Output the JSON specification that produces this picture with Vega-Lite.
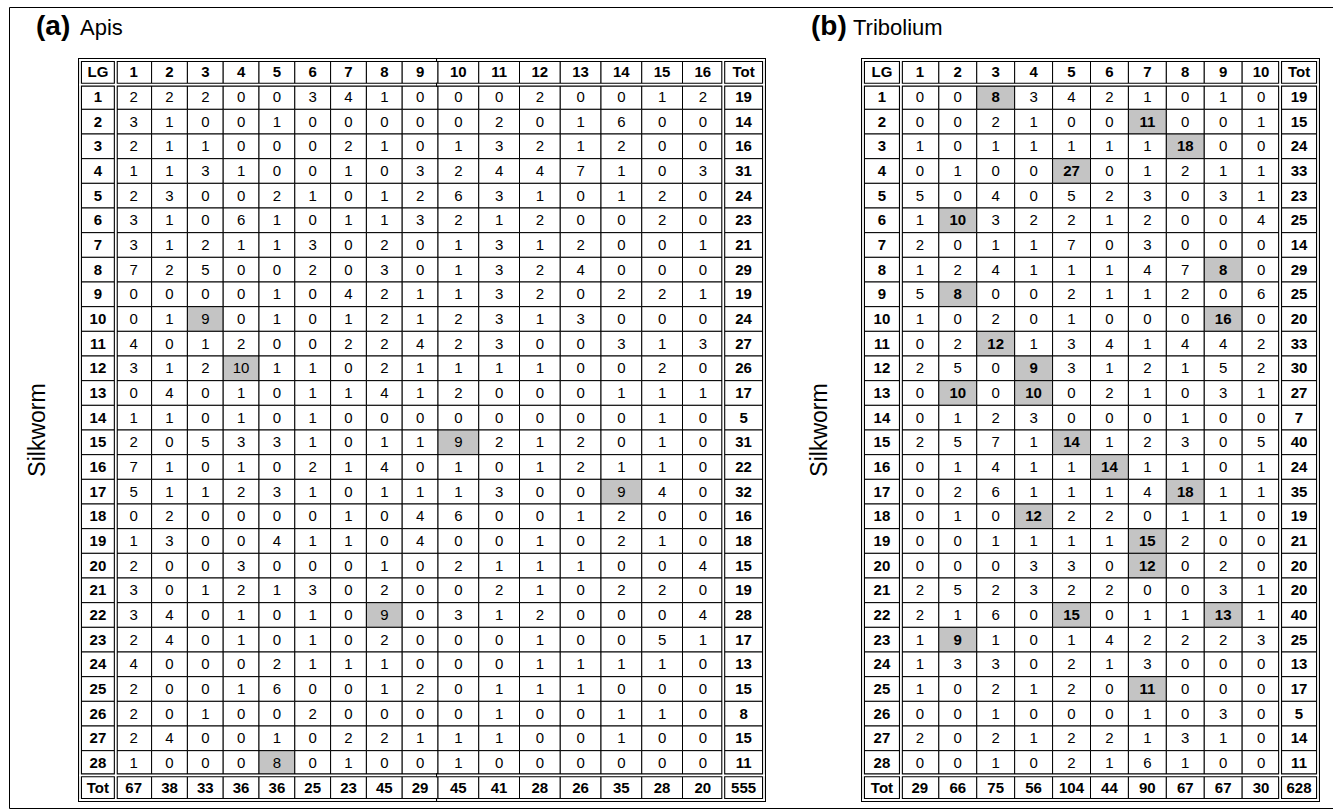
{
"$schema": "https://vega.github.io/schema/vega-lite/v6.json",
"width": 1333, "height": 810,
"autosize": {"type": "fit", "contains": "padding"},
"padding": {"left": 9, "top": 7, "right": 0, "bottom": 2},
"background": "white",
"config": {"view": {"stroke": "black", "strokeWidth": 1}, "font": "Liberation Sans"},
"datasets": {
"apis": [
{"r":"LG","c":"LG","v":"LG"},{"r":"LG","c":"1","v":"1"},{"r":"LG","c":"2","v":"2"},{"r":"LG","c":"3","v":"3"},{"r":"LG","c":"4","v":"4"},{"r":"LG","c":"5","v":"5"},{"r":"LG","c":"6","v":"6"},{"r":"LG","c":"7","v":"7"},{"r":"LG","c":"8","v":"8"},{"r":"LG","c":"9","v":"9"},{"r":"LG","c":"10","v":"10"},{"r":"LG","c":"11","v":"11"},{"r":"LG","c":"12","v":"12"},{"r":"LG","c":"13","v":"13"},{"r":"LG","c":"14","v":"14"},{"r":"LG","c":"15","v":"15"},{"r":"LG","c":"16","v":"16"},{"r":"LG","c":"Tot","v":"Tot"},
{"r":"1","c":"LG","v":"1"},{"r":"1","c":"1","v":2},{"r":"1","c":"2","v":2},{"r":"1","c":"3","v":2},{"r":"1","c":"4","v":0},{"r":"1","c":"5","v":0},{"r":"1","c":"6","v":3},{"r":"1","c":"7","v":4},{"r":"1","c":"8","v":1},{"r":"1","c":"9","v":0},{"r":"1","c":"10","v":0},{"r":"1","c":"11","v":0},{"r":"1","c":"12","v":2},{"r":"1","c":"13","v":0},{"r":"1","c":"14","v":0},{"r":"1","c":"15","v":1},{"r":"1","c":"16","v":2},{"r":"1","c":"Tot","v":19},
{"r":"2","c":"LG","v":"2"},{"r":"2","c":"1","v":3},{"r":"2","c":"2","v":1},{"r":"2","c":"3","v":0},{"r":"2","c":"4","v":0},{"r":"2","c":"5","v":1},{"r":"2","c":"6","v":0},{"r":"2","c":"7","v":0},{"r":"2","c":"8","v":0},{"r":"2","c":"9","v":0},{"r":"2","c":"10","v":0},{"r":"2","c":"11","v":2},{"r":"2","c":"12","v":0},{"r":"2","c":"13","v":1},{"r":"2","c":"14","v":6},{"r":"2","c":"15","v":0},{"r":"2","c":"16","v":0},{"r":"2","c":"Tot","v":14},
{"r":"3","c":"LG","v":"3"},{"r":"3","c":"1","v":2},{"r":"3","c":"2","v":1},{"r":"3","c":"3","v":1},{"r":"3","c":"4","v":0},{"r":"3","c":"5","v":0},{"r":"3","c":"6","v":0},{"r":"3","c":"7","v":2},{"r":"3","c":"8","v":1},{"r":"3","c":"9","v":0},{"r":"3","c":"10","v":1},{"r":"3","c":"11","v":3},{"r":"3","c":"12","v":2},{"r":"3","c":"13","v":1},{"r":"3","c":"14","v":2},{"r":"3","c":"15","v":0},{"r":"3","c":"16","v":0},{"r":"3","c":"Tot","v":16},
{"r":"4","c":"LG","v":"4"},{"r":"4","c":"1","v":1},{"r":"4","c":"2","v":1},{"r":"4","c":"3","v":3},{"r":"4","c":"4","v":1},{"r":"4","c":"5","v":0},{"r":"4","c":"6","v":0},{"r":"4","c":"7","v":1},{"r":"4","c":"8","v":0},{"r":"4","c":"9","v":3},{"r":"4","c":"10","v":2},{"r":"4","c":"11","v":4},{"r":"4","c":"12","v":4},{"r":"4","c":"13","v":7},{"r":"4","c":"14","v":1},{"r":"4","c":"15","v":0},{"r":"4","c":"16","v":3},{"r":"4","c":"Tot","v":31},
{"r":"5","c":"LG","v":"5"},{"r":"5","c":"1","v":2},{"r":"5","c":"2","v":3},{"r":"5","c":"3","v":0},{"r":"5","c":"4","v":0},{"r":"5","c":"5","v":2},{"r":"5","c":"6","v":1},{"r":"5","c":"7","v":0},{"r":"5","c":"8","v":1},{"r":"5","c":"9","v":2},{"r":"5","c":"10","v":6},{"r":"5","c":"11","v":3},{"r":"5","c":"12","v":1},{"r":"5","c":"13","v":0},{"r":"5","c":"14","v":1},{"r":"5","c":"15","v":2},{"r":"5","c":"16","v":0},{"r":"5","c":"Tot","v":24},
{"r":"6","c":"LG","v":"6"},{"r":"6","c":"1","v":3},{"r":"6","c":"2","v":1},{"r":"6","c":"3","v":0},{"r":"6","c":"4","v":6},{"r":"6","c":"5","v":1},{"r":"6","c":"6","v":0},{"r":"6","c":"7","v":1},{"r":"6","c":"8","v":1},{"r":"6","c":"9","v":3},{"r":"6","c":"10","v":2},{"r":"6","c":"11","v":1},{"r":"6","c":"12","v":2},{"r":"6","c":"13","v":0},{"r":"6","c":"14","v":0},{"r":"6","c":"15","v":2},{"r":"6","c":"16","v":0},{"r":"6","c":"Tot","v":23},
{"r":"7","c":"LG","v":"7"},{"r":"7","c":"1","v":3},{"r":"7","c":"2","v":1},{"r":"7","c":"3","v":2},{"r":"7","c":"4","v":1},{"r":"7","c":"5","v":1},{"r":"7","c":"6","v":3},{"r":"7","c":"7","v":0},{"r":"7","c":"8","v":2},{"r":"7","c":"9","v":0},{"r":"7","c":"10","v":1},{"r":"7","c":"11","v":3},{"r":"7","c":"12","v":1},{"r":"7","c":"13","v":2},{"r":"7","c":"14","v":0},{"r":"7","c":"15","v":0},{"r":"7","c":"16","v":1},{"r":"7","c":"Tot","v":21},
{"r":"8","c":"LG","v":"8"},{"r":"8","c":"1","v":7},{"r":"8","c":"2","v":2},{"r":"8","c":"3","v":5},{"r":"8","c":"4","v":0},{"r":"8","c":"5","v":0},{"r":"8","c":"6","v":2},{"r":"8","c":"7","v":0},{"r":"8","c":"8","v":3},{"r":"8","c":"9","v":0},{"r":"8","c":"10","v":1},{"r":"8","c":"11","v":3},{"r":"8","c":"12","v":2},{"r":"8","c":"13","v":4},{"r":"8","c":"14","v":0},{"r":"8","c":"15","v":0},{"r":"8","c":"16","v":0},{"r":"8","c":"Tot","v":29},
{"r":"9","c":"LG","v":"9"},{"r":"9","c":"1","v":0},{"r":"9","c":"2","v":0},{"r":"9","c":"3","v":0},{"r":"9","c":"4","v":0},{"r":"9","c":"5","v":1},{"r":"9","c":"6","v":0},{"r":"9","c":"7","v":4},{"r":"9","c":"8","v":2},{"r":"9","c":"9","v":1},{"r":"9","c":"10","v":1},{"r":"9","c":"11","v":3},{"r":"9","c":"12","v":2},{"r":"9","c":"13","v":0},{"r":"9","c":"14","v":2},{"r":"9","c":"15","v":2},{"r":"9","c":"16","v":1},{"r":"9","c":"Tot","v":19},
{"r":"10","c":"LG","v":"10"},{"r":"10","c":"1","v":0},{"r":"10","c":"2","v":1},{"r":"10","c":"3","v":9,"h":1},{"r":"10","c":"4","v":0},{"r":"10","c":"5","v":1},{"r":"10","c":"6","v":0},{"r":"10","c":"7","v":1},{"r":"10","c":"8","v":2},{"r":"10","c":"9","v":1},{"r":"10","c":"10","v":2},{"r":"10","c":"11","v":3},{"r":"10","c":"12","v":1},{"r":"10","c":"13","v":3},{"r":"10","c":"14","v":0},{"r":"10","c":"15","v":0},{"r":"10","c":"16","v":0},{"r":"10","c":"Tot","v":24},
{"r":"11","c":"LG","v":"11"},{"r":"11","c":"1","v":4},{"r":"11","c":"2","v":0},{"r":"11","c":"3","v":1},{"r":"11","c":"4","v":2},{"r":"11","c":"5","v":0},{"r":"11","c":"6","v":0},{"r":"11","c":"7","v":2},{"r":"11","c":"8","v":2},{"r":"11","c":"9","v":4},{"r":"11","c":"10","v":2},{"r":"11","c":"11","v":3},{"r":"11","c":"12","v":0},{"r":"11","c":"13","v":0},{"r":"11","c":"14","v":3},{"r":"11","c":"15","v":1},{"r":"11","c":"16","v":3},{"r":"11","c":"Tot","v":27},
{"r":"12","c":"LG","v":"12"},{"r":"12","c":"1","v":3},{"r":"12","c":"2","v":1},{"r":"12","c":"3","v":2},{"r":"12","c":"4","v":10,"h":1},{"r":"12","c":"5","v":1},{"r":"12","c":"6","v":1},{"r":"12","c":"7","v":0},{"r":"12","c":"8","v":2},{"r":"12","c":"9","v":1},{"r":"12","c":"10","v":1},{"r":"12","c":"11","v":1},{"r":"12","c":"12","v":1},{"r":"12","c":"13","v":0},{"r":"12","c":"14","v":0},{"r":"12","c":"15","v":2},{"r":"12","c":"16","v":0},{"r":"12","c":"Tot","v":26},
{"r":"13","c":"LG","v":"13"},{"r":"13","c":"1","v":0},{"r":"13","c":"2","v":4},{"r":"13","c":"3","v":0},{"r":"13","c":"4","v":1},{"r":"13","c":"5","v":0},{"r":"13","c":"6","v":1},{"r":"13","c":"7","v":1},{"r":"13","c":"8","v":4},{"r":"13","c":"9","v":1},{"r":"13","c":"10","v":2},{"r":"13","c":"11","v":0},{"r":"13","c":"12","v":0},{"r":"13","c":"13","v":0},{"r":"13","c":"14","v":1},{"r":"13","c":"15","v":1},{"r":"13","c":"16","v":1},{"r":"13","c":"Tot","v":17},
{"r":"14","c":"LG","v":"14"},{"r":"14","c":"1","v":1},{"r":"14","c":"2","v":1},{"r":"14","c":"3","v":0},{"r":"14","c":"4","v":1},{"r":"14","c":"5","v":0},{"r":"14","c":"6","v":1},{"r":"14","c":"7","v":0},{"r":"14","c":"8","v":0},{"r":"14","c":"9","v":0},{"r":"14","c":"10","v":0},{"r":"14","c":"11","v":0},{"r":"14","c":"12","v":0},{"r":"14","c":"13","v":0},{"r":"14","c":"14","v":0},{"r":"14","c":"15","v":1},{"r":"14","c":"16","v":0},{"r":"14","c":"Tot","v":5},
{"r":"15","c":"LG","v":"15"},{"r":"15","c":"1","v":2},{"r":"15","c":"2","v":0},{"r":"15","c":"3","v":5},{"r":"15","c":"4","v":3},{"r":"15","c":"5","v":3},{"r":"15","c":"6","v":1},{"r":"15","c":"7","v":0},{"r":"15","c":"8","v":1},{"r":"15","c":"9","v":1},{"r":"15","c":"10","v":9,"h":1},{"r":"15","c":"11","v":2},{"r":"15","c":"12","v":1},{"r":"15","c":"13","v":2},{"r":"15","c":"14","v":0},{"r":"15","c":"15","v":1},{"r":"15","c":"16","v":0},{"r":"15","c":"Tot","v":31},
{"r":"16","c":"LG","v":"16"},{"r":"16","c":"1","v":7},{"r":"16","c":"2","v":1},{"r":"16","c":"3","v":0},{"r":"16","c":"4","v":1},{"r":"16","c":"5","v":0},{"r":"16","c":"6","v":2},{"r":"16","c":"7","v":1},{"r":"16","c":"8","v":4},{"r":"16","c":"9","v":0},{"r":"16","c":"10","v":1},{"r":"16","c":"11","v":0},{"r":"16","c":"12","v":1},{"r":"16","c":"13","v":2},{"r":"16","c":"14","v":1},{"r":"16","c":"15","v":1},{"r":"16","c":"16","v":0},{"r":"16","c":"Tot","v":22},
{"r":"17","c":"LG","v":"17"},{"r":"17","c":"1","v":5},{"r":"17","c":"2","v":1},{"r":"17","c":"3","v":1},{"r":"17","c":"4","v":2},{"r":"17","c":"5","v":3},{"r":"17","c":"6","v":1},{"r":"17","c":"7","v":0},{"r":"17","c":"8","v":1},{"r":"17","c":"9","v":1},{"r":"17","c":"10","v":1},{"r":"17","c":"11","v":3},{"r":"17","c":"12","v":0},{"r":"17","c":"13","v":0},{"r":"17","c":"14","v":9,"h":1},{"r":"17","c":"15","v":4},{"r":"17","c":"16","v":0},{"r":"17","c":"Tot","v":32},
{"r":"18","c":"LG","v":"18"},{"r":"18","c":"1","v":0},{"r":"18","c":"2","v":2},{"r":"18","c":"3","v":0},{"r":"18","c":"4","v":0},{"r":"18","c":"5","v":0},{"r":"18","c":"6","v":0},{"r":"18","c":"7","v":1},{"r":"18","c":"8","v":0},{"r":"18","c":"9","v":4},{"r":"18","c":"10","v":6},{"r":"18","c":"11","v":0},{"r":"18","c":"12","v":0},{"r":"18","c":"13","v":1},{"r":"18","c":"14","v":2},{"r":"18","c":"15","v":0},{"r":"18","c":"16","v":0},{"r":"18","c":"Tot","v":16},
{"r":"19","c":"LG","v":"19"},{"r":"19","c":"1","v":1},{"r":"19","c":"2","v":3},{"r":"19","c":"3","v":0},{"r":"19","c":"4","v":0},{"r":"19","c":"5","v":4},{"r":"19","c":"6","v":1},{"r":"19","c":"7","v":1},{"r":"19","c":"8","v":0},{"r":"19","c":"9","v":4},{"r":"19","c":"10","v":0},{"r":"19","c":"11","v":0},{"r":"19","c":"12","v":1},{"r":"19","c":"13","v":0},{"r":"19","c":"14","v":2},{"r":"19","c":"15","v":1},{"r":"19","c":"16","v":0},{"r":"19","c":"Tot","v":18},
{"r":"20","c":"LG","v":"20"},{"r":"20","c":"1","v":2},{"r":"20","c":"2","v":0},{"r":"20","c":"3","v":0},{"r":"20","c":"4","v":3},{"r":"20","c":"5","v":0},{"r":"20","c":"6","v":0},{"r":"20","c":"7","v":0},{"r":"20","c":"8","v":1},{"r":"20","c":"9","v":0},{"r":"20","c":"10","v":2},{"r":"20","c":"11","v":1},{"r":"20","c":"12","v":1},{"r":"20","c":"13","v":1},{"r":"20","c":"14","v":0},{"r":"20","c":"15","v":0},{"r":"20","c":"16","v":4},{"r":"20","c":"Tot","v":15},
{"r":"21","c":"LG","v":"21"},{"r":"21","c":"1","v":3},{"r":"21","c":"2","v":0},{"r":"21","c":"3","v":1},{"r":"21","c":"4","v":2},{"r":"21","c":"5","v":1},{"r":"21","c":"6","v":3},{"r":"21","c":"7","v":0},{"r":"21","c":"8","v":2},{"r":"21","c":"9","v":0},{"r":"21","c":"10","v":0},{"r":"21","c":"11","v":2},{"r":"21","c":"12","v":1},{"r":"21","c":"13","v":0},{"r":"21","c":"14","v":2},{"r":"21","c":"15","v":2},{"r":"21","c":"16","v":0},{"r":"21","c":"Tot","v":19},
{"r":"22","c":"LG","v":"22"},{"r":"22","c":"1","v":3},{"r":"22","c":"2","v":4},{"r":"22","c":"3","v":0},{"r":"22","c":"4","v":1},{"r":"22","c":"5","v":0},{"r":"22","c":"6","v":1},{"r":"22","c":"7","v":0},{"r":"22","c":"8","v":9,"h":1},{"r":"22","c":"9","v":0},{"r":"22","c":"10","v":3},{"r":"22","c":"11","v":1},{"r":"22","c":"12","v":2},{"r":"22","c":"13","v":0},{"r":"22","c":"14","v":0},{"r":"22","c":"15","v":0},{"r":"22","c":"16","v":4},{"r":"22","c":"Tot","v":28},
{"r":"23","c":"LG","v":"23"},{"r":"23","c":"1","v":2},{"r":"23","c":"2","v":4},{"r":"23","c":"3","v":0},{"r":"23","c":"4","v":1},{"r":"23","c":"5","v":0},{"r":"23","c":"6","v":1},{"r":"23","c":"7","v":0},{"r":"23","c":"8","v":2},{"r":"23","c":"9","v":0},{"r":"23","c":"10","v":0},{"r":"23","c":"11","v":0},{"r":"23","c":"12","v":1},{"r":"23","c":"13","v":0},{"r":"23","c":"14","v":0},{"r":"23","c":"15","v":5},{"r":"23","c":"16","v":1},{"r":"23","c":"Tot","v":17},
{"r":"24","c":"LG","v":"24"},{"r":"24","c":"1","v":4},{"r":"24","c":"2","v":0},{"r":"24","c":"3","v":0},{"r":"24","c":"4","v":0},{"r":"24","c":"5","v":2},{"r":"24","c":"6","v":1},{"r":"24","c":"7","v":1},{"r":"24","c":"8","v":1},{"r":"24","c":"9","v":0},{"r":"24","c":"10","v":0},{"r":"24","c":"11","v":0},{"r":"24","c":"12","v":1},{"r":"24","c":"13","v":1},{"r":"24","c":"14","v":1},{"r":"24","c":"15","v":1},{"r":"24","c":"16","v":0},{"r":"24","c":"Tot","v":13},
{"r":"25","c":"LG","v":"25"},{"r":"25","c":"1","v":2},{"r":"25","c":"2","v":0},{"r":"25","c":"3","v":0},{"r":"25","c":"4","v":1},{"r":"25","c":"5","v":6},{"r":"25","c":"6","v":0},{"r":"25","c":"7","v":0},{"r":"25","c":"8","v":1},{"r":"25","c":"9","v":2},{"r":"25","c":"10","v":0},{"r":"25","c":"11","v":1},{"r":"25","c":"12","v":1},{"r":"25","c":"13","v":1},{"r":"25","c":"14","v":0},{"r":"25","c":"15","v":0},{"r":"25","c":"16","v":0},{"r":"25","c":"Tot","v":15},
{"r":"26","c":"LG","v":"26"},{"r":"26","c":"1","v":2},{"r":"26","c":"2","v":0},{"r":"26","c":"3","v":1},{"r":"26","c":"4","v":0},{"r":"26","c":"5","v":0},{"r":"26","c":"6","v":2},{"r":"26","c":"7","v":0},{"r":"26","c":"8","v":0},{"r":"26","c":"9","v":0},{"r":"26","c":"10","v":0},{"r":"26","c":"11","v":1},{"r":"26","c":"12","v":0},{"r":"26","c":"13","v":0},{"r":"26","c":"14","v":1},{"r":"26","c":"15","v":1},{"r":"26","c":"16","v":0},{"r":"26","c":"Tot","v":8},
{"r":"27","c":"LG","v":"27"},{"r":"27","c":"1","v":2},{"r":"27","c":"2","v":4},{"r":"27","c":"3","v":0},{"r":"27","c":"4","v":0},{"r":"27","c":"5","v":1},{"r":"27","c":"6","v":0},{"r":"27","c":"7","v":2},{"r":"27","c":"8","v":2},{"r":"27","c":"9","v":1},{"r":"27","c":"10","v":1},{"r":"27","c":"11","v":1},{"r":"27","c":"12","v":0},{"r":"27","c":"13","v":0},{"r":"27","c":"14","v":1},{"r":"27","c":"15","v":0},{"r":"27","c":"16","v":0},{"r":"27","c":"Tot","v":15},
{"r":"28","c":"LG","v":"28"},{"r":"28","c":"1","v":1},{"r":"28","c":"2","v":0},{"r":"28","c":"3","v":0},{"r":"28","c":"4","v":0},{"r":"28","c":"5","v":8,"h":1},{"r":"28","c":"6","v":0},{"r":"28","c":"7","v":1},{"r":"28","c":"8","v":0},{"r":"28","c":"9","v":0},{"r":"28","c":"10","v":1},{"r":"28","c":"11","v":0},{"r":"28","c":"12","v":0},{"r":"28","c":"13","v":0},{"r":"28","c":"14","v":0},{"r":"28","c":"15","v":0},{"r":"28","c":"16","v":0},{"r":"28","c":"Tot","v":11},
{"r":"Tot","c":"LG","v":"Tot"},{"r":"Tot","c":"1","v":67},{"r":"Tot","c":"2","v":38},{"r":"Tot","c":"3","v":33},{"r":"Tot","c":"4","v":36},{"r":"Tot","c":"5","v":36},{"r":"Tot","c":"6","v":25},{"r":"Tot","c":"7","v":23},{"r":"Tot","c":"8","v":45},{"r":"Tot","c":"9","v":29},{"r":"Tot","c":"10","v":45},{"r":"Tot","c":"11","v":41},{"r":"Tot","c":"12","v":28},{"r":"Tot","c":"13","v":26},{"r":"Tot","c":"14","v":35},{"r":"Tot","c":"15","v":28},{"r":"Tot","c":"16","v":20},{"r":"Tot","c":"Tot","v":555}
],
"trib": [
{"r":"LG","c":"LG","v":"LG"},{"r":"LG","c":"1","v":"1"},{"r":"LG","c":"2","v":"2"},{"r":"LG","c":"3","v":"3"},{"r":"LG","c":"4","v":"4"},{"r":"LG","c":"5","v":"5"},{"r":"LG","c":"6","v":"6"},{"r":"LG","c":"7","v":"7"},{"r":"LG","c":"8","v":"8"},{"r":"LG","c":"9","v":"9"},{"r":"LG","c":"10","v":"10"},{"r":"LG","c":"Tot","v":"Tot"},
{"r":"1","c":"LG","v":"1"},{"r":"1","c":"1","v":0},{"r":"1","c":"2","v":0},{"r":"1","c":"3","v":8,"h":1},{"r":"1","c":"4","v":3},{"r":"1","c":"5","v":4},{"r":"1","c":"6","v":2},{"r":"1","c":"7","v":1},{"r":"1","c":"8","v":0},{"r":"1","c":"9","v":1},{"r":"1","c":"10","v":0},{"r":"1","c":"Tot","v":19},
{"r":"2","c":"LG","v":"2"},{"r":"2","c":"1","v":0},{"r":"2","c":"2","v":0},{"r":"2","c":"3","v":2},{"r":"2","c":"4","v":1},{"r":"2","c":"5","v":0},{"r":"2","c":"6","v":0},{"r":"2","c":"7","v":11,"h":1},{"r":"2","c":"8","v":0},{"r":"2","c":"9","v":0},{"r":"2","c":"10","v":1},{"r":"2","c":"Tot","v":15},
{"r":"3","c":"LG","v":"3"},{"r":"3","c":"1","v":1},{"r":"3","c":"2","v":0},{"r":"3","c":"3","v":1},{"r":"3","c":"4","v":1},{"r":"3","c":"5","v":1},{"r":"3","c":"6","v":1},{"r":"3","c":"7","v":1},{"r":"3","c":"8","v":18,"h":1},{"r":"3","c":"9","v":0},{"r":"3","c":"10","v":0},{"r":"3","c":"Tot","v":24},
{"r":"4","c":"LG","v":"4"},{"r":"4","c":"1","v":0},{"r":"4","c":"2","v":1},{"r":"4","c":"3","v":0},{"r":"4","c":"4","v":0},{"r":"4","c":"5","v":27,"h":1},{"r":"4","c":"6","v":0},{"r":"4","c":"7","v":1},{"r":"4","c":"8","v":2},{"r":"4","c":"9","v":1},{"r":"4","c":"10","v":1},{"r":"4","c":"Tot","v":33},
{"r":"5","c":"LG","v":"5"},{"r":"5","c":"1","v":5},{"r":"5","c":"2","v":0},{"r":"5","c":"3","v":4},{"r":"5","c":"4","v":0},{"r":"5","c":"5","v":5},{"r":"5","c":"6","v":2},{"r":"5","c":"7","v":3},{"r":"5","c":"8","v":0},{"r":"5","c":"9","v":3},{"r":"5","c":"10","v":1},{"r":"5","c":"Tot","v":23},
{"r":"6","c":"LG","v":"6"},{"r":"6","c":"1","v":1},{"r":"6","c":"2","v":10,"h":1},{"r":"6","c":"3","v":3},{"r":"6","c":"4","v":2},{"r":"6","c":"5","v":2},{"r":"6","c":"6","v":1},{"r":"6","c":"7","v":2},{"r":"6","c":"8","v":0},{"r":"6","c":"9","v":0},{"r":"6","c":"10","v":4},{"r":"6","c":"Tot","v":25},
{"r":"7","c":"LG","v":"7"},{"r":"7","c":"1","v":2},{"r":"7","c":"2","v":0},{"r":"7","c":"3","v":1},{"r":"7","c":"4","v":1},{"r":"7","c":"5","v":7},{"r":"7","c":"6","v":0},{"r":"7","c":"7","v":3},{"r":"7","c":"8","v":0},{"r":"7","c":"9","v":0},{"r":"7","c":"10","v":0},{"r":"7","c":"Tot","v":14},
{"r":"8","c":"LG","v":"8"},{"r":"8","c":"1","v":1},{"r":"8","c":"2","v":2},{"r":"8","c":"3","v":4},{"r":"8","c":"4","v":1},{"r":"8","c":"5","v":1},{"r":"8","c":"6","v":1},{"r":"8","c":"7","v":4},{"r":"8","c":"8","v":7},{"r":"8","c":"9","v":8,"h":1},{"r":"8","c":"10","v":0},{"r":"8","c":"Tot","v":29},
{"r":"9","c":"LG","v":"9"},{"r":"9","c":"1","v":5},{"r":"9","c":"2","v":8,"h":1},{"r":"9","c":"3","v":0},{"r":"9","c":"4","v":0},{"r":"9","c":"5","v":2},{"r":"9","c":"6","v":1},{"r":"9","c":"7","v":1},{"r":"9","c":"8","v":2},{"r":"9","c":"9","v":0},{"r":"9","c":"10","v":6},{"r":"9","c":"Tot","v":25},
{"r":"10","c":"LG","v":"10"},{"r":"10","c":"1","v":1},{"r":"10","c":"2","v":0},{"r":"10","c":"3","v":2},{"r":"10","c":"4","v":0},{"r":"10","c":"5","v":1},{"r":"10","c":"6","v":0},{"r":"10","c":"7","v":0},{"r":"10","c":"8","v":0},{"r":"10","c":"9","v":16,"h":1},{"r":"10","c":"10","v":0},{"r":"10","c":"Tot","v":20},
{"r":"11","c":"LG","v":"11"},{"r":"11","c":"1","v":0},{"r":"11","c":"2","v":2},{"r":"11","c":"3","v":12,"h":1},{"r":"11","c":"4","v":1},{"r":"11","c":"5","v":3},{"r":"11","c":"6","v":4},{"r":"11","c":"7","v":1},{"r":"11","c":"8","v":4},{"r":"11","c":"9","v":4},{"r":"11","c":"10","v":2},{"r":"11","c":"Tot","v":33},
{"r":"12","c":"LG","v":"12"},{"r":"12","c":"1","v":2},{"r":"12","c":"2","v":5},{"r":"12","c":"3","v":0},{"r":"12","c":"4","v":9,"h":1},{"r":"12","c":"5","v":3},{"r":"12","c":"6","v":1},{"r":"12","c":"7","v":2},{"r":"12","c":"8","v":1},{"r":"12","c":"9","v":5},{"r":"12","c":"10","v":2},{"r":"12","c":"Tot","v":30},
{"r":"13","c":"LG","v":"13"},{"r":"13","c":"1","v":0},{"r":"13","c":"2","v":10,"h":1},{"r":"13","c":"3","v":0},{"r":"13","c":"4","v":10,"h":1},{"r":"13","c":"5","v":0},{"r":"13","c":"6","v":2},{"r":"13","c":"7","v":1},{"r":"13","c":"8","v":0},{"r":"13","c":"9","v":3},{"r":"13","c":"10","v":1},{"r":"13","c":"Tot","v":27},
{"r":"14","c":"LG","v":"14"},{"r":"14","c":"1","v":0},{"r":"14","c":"2","v":1},{"r":"14","c":"3","v":2},{"r":"14","c":"4","v":3},{"r":"14","c":"5","v":0},{"r":"14","c":"6","v":0},{"r":"14","c":"7","v":0},{"r":"14","c":"8","v":1},{"r":"14","c":"9","v":0},{"r":"14","c":"10","v":0},{"r":"14","c":"Tot","v":7},
{"r":"15","c":"LG","v":"15"},{"r":"15","c":"1","v":2},{"r":"15","c":"2","v":5},{"r":"15","c":"3","v":7},{"r":"15","c":"4","v":1},{"r":"15","c":"5","v":14,"h":1},{"r":"15","c":"6","v":1},{"r":"15","c":"7","v":2},{"r":"15","c":"8","v":3},{"r":"15","c":"9","v":0},{"r":"15","c":"10","v":5},{"r":"15","c":"Tot","v":40},
{"r":"16","c":"LG","v":"16"},{"r":"16","c":"1","v":0},{"r":"16","c":"2","v":1},{"r":"16","c":"3","v":4},{"r":"16","c":"4","v":1},{"r":"16","c":"5","v":1},{"r":"16","c":"6","v":14,"h":1},{"r":"16","c":"7","v":1},{"r":"16","c":"8","v":1},{"r":"16","c":"9","v":0},{"r":"16","c":"10","v":1},{"r":"16","c":"Tot","v":24},
{"r":"17","c":"LG","v":"17"},{"r":"17","c":"1","v":0},{"r":"17","c":"2","v":2},{"r":"17","c":"3","v":6},{"r":"17","c":"4","v":1},{"r":"17","c":"5","v":1},{"r":"17","c":"6","v":1},{"r":"17","c":"7","v":4},{"r":"17","c":"8","v":18,"h":1},{"r":"17","c":"9","v":1},{"r":"17","c":"10","v":1},{"r":"17","c":"Tot","v":35},
{"r":"18","c":"LG","v":"18"},{"r":"18","c":"1","v":0},{"r":"18","c":"2","v":1},{"r":"18","c":"3","v":0},{"r":"18","c":"4","v":12,"h":1},{"r":"18","c":"5","v":2},{"r":"18","c":"6","v":2},{"r":"18","c":"7","v":0},{"r":"18","c":"8","v":1},{"r":"18","c":"9","v":1},{"r":"18","c":"10","v":0},{"r":"18","c":"Tot","v":19},
{"r":"19","c":"LG","v":"19"},{"r":"19","c":"1","v":0},{"r":"19","c":"2","v":0},{"r":"19","c":"3","v":1},{"r":"19","c":"4","v":1},{"r":"19","c":"5","v":1},{"r":"19","c":"6","v":1},{"r":"19","c":"7","v":15,"h":1},{"r":"19","c":"8","v":2},{"r":"19","c":"9","v":0},{"r":"19","c":"10","v":0},{"r":"19","c":"Tot","v":21},
{"r":"20","c":"LG","v":"20"},{"r":"20","c":"1","v":0},{"r":"20","c":"2","v":0},{"r":"20","c":"3","v":0},{"r":"20","c":"4","v":3},{"r":"20","c":"5","v":3},{"r":"20","c":"6","v":0},{"r":"20","c":"7","v":12,"h":1},{"r":"20","c":"8","v":0},{"r":"20","c":"9","v":2},{"r":"20","c":"10","v":0},{"r":"20","c":"Tot","v":20},
{"r":"21","c":"LG","v":"21"},{"r":"21","c":"1","v":2},{"r":"21","c":"2","v":5},{"r":"21","c":"3","v":2},{"r":"21","c":"4","v":3},{"r":"21","c":"5","v":2},{"r":"21","c":"6","v":2},{"r":"21","c":"7","v":0},{"r":"21","c":"8","v":0},{"r":"21","c":"9","v":3},{"r":"21","c":"10","v":1},{"r":"21","c":"Tot","v":20},
{"r":"22","c":"LG","v":"22"},{"r":"22","c":"1","v":2},{"r":"22","c":"2","v":1},{"r":"22","c":"3","v":6},{"r":"22","c":"4","v":0},{"r":"22","c":"5","v":15,"h":1},{"r":"22","c":"6","v":0},{"r":"22","c":"7","v":1},{"r":"22","c":"8","v":1},{"r":"22","c":"9","v":13,"h":1},{"r":"22","c":"10","v":1},{"r":"22","c":"Tot","v":40},
{"r":"23","c":"LG","v":"23"},{"r":"23","c":"1","v":1},{"r":"23","c":"2","v":9,"h":1},{"r":"23","c":"3","v":1},{"r":"23","c":"4","v":0},{"r":"23","c":"5","v":1},{"r":"23","c":"6","v":4},{"r":"23","c":"7","v":2},{"r":"23","c":"8","v":2},{"r":"23","c":"9","v":2},{"r":"23","c":"10","v":3},{"r":"23","c":"Tot","v":25},
{"r":"24","c":"LG","v":"24"},{"r":"24","c":"1","v":1},{"r":"24","c":"2","v":3},{"r":"24","c":"3","v":3},{"r":"24","c":"4","v":0},{"r":"24","c":"5","v":2},{"r":"24","c":"6","v":1},{"r":"24","c":"7","v":3},{"r":"24","c":"8","v":0},{"r":"24","c":"9","v":0},{"r":"24","c":"10","v":0},{"r":"24","c":"Tot","v":13},
{"r":"25","c":"LG","v":"25"},{"r":"25","c":"1","v":1},{"r":"25","c":"2","v":0},{"r":"25","c":"3","v":2},{"r":"25","c":"4","v":1},{"r":"25","c":"5","v":2},{"r":"25","c":"6","v":0},{"r":"25","c":"7","v":11,"h":1},{"r":"25","c":"8","v":0},{"r":"25","c":"9","v":0},{"r":"25","c":"10","v":0},{"r":"25","c":"Tot","v":17},
{"r":"26","c":"LG","v":"26"},{"r":"26","c":"1","v":0},{"r":"26","c":"2","v":0},{"r":"26","c":"3","v":1},{"r":"26","c":"4","v":0},{"r":"26","c":"5","v":0},{"r":"26","c":"6","v":0},{"r":"26","c":"7","v":1},{"r":"26","c":"8","v":0},{"r":"26","c":"9","v":3},{"r":"26","c":"10","v":0},{"r":"26","c":"Tot","v":5},
{"r":"27","c":"LG","v":"27"},{"r":"27","c":"1","v":2},{"r":"27","c":"2","v":0},{"r":"27","c":"3","v":2},{"r":"27","c":"4","v":1},{"r":"27","c":"5","v":2},{"r":"27","c":"6","v":2},{"r":"27","c":"7","v":1},{"r":"27","c":"8","v":3},{"r":"27","c":"9","v":1},{"r":"27","c":"10","v":0},{"r":"27","c":"Tot","v":14},
{"r":"28","c":"LG","v":"28"},{"r":"28","c":"1","v":0},{"r":"28","c":"2","v":0},{"r":"28","c":"3","v":1},{"r":"28","c":"4","v":0},{"r":"28","c":"5","v":2},{"r":"28","c":"6","v":1},{"r":"28","c":"7","v":6},{"r":"28","c":"8","v":1},{"r":"28","c":"9","v":0},{"r":"28","c":"10","v":0},{"r":"28","c":"Tot","v":11},
{"r":"Tot","c":"LG","v":"Tot"},{"r":"Tot","c":"1","v":29},{"r":"Tot","c":"2","v":66},{"r":"Tot","c":"3","v":75},{"r":"Tot","c":"4","v":56},{"r":"Tot","c":"5","v":104},{"r":"Tot","c":"6","v":44},{"r":"Tot","c":"7","v":90},{"r":"Tot","c":"8","v":67},{"r":"Tot","c":"9","v":67},{"r":"Tot","c":"10","v":30},{"r":"Tot","c":"Tot","v":628}
]
},
"layer": [
{
"data": {"name": "apis"},
"encoding": {
 "x": {"field": "c", "type": "nominal", "axis": null, "scale": {"domain": ["LG","1","2","3","4","5","6","7","8","9"], "paddingInner": 0, "paddingOuter": 0, "range": [71, 429]}},
 "y": {"field": "r", "type": "nominal", "axis": null, "scale": {"domain": ["LG","1","2","3","4","5","6","7","8","9","10","11","12","13","14","15","16","17","18","19","20","21","22","23","24","25","26","27","28","Tot"], "paddingInner": 0, "paddingOuter": 0, "range": [53, 793]}}
},
"layer": [
 {"transform": [{"filter": {"field": "c", "oneOf": ["LG","1","2","3","4","5","6","7","8","9"]}}],
  "mark": {"type": "rect", "stroke": "black", "strokeWidth": 1},
  "encoding": {"fill": {"condition": {"test": "datum.h", "value": "#c4c4c4"}, "value": "white"}}},
 {"data": {"values": [{"at": "LG"}, {"at": "1"}, {"at": "Tot"}]},
  "mark": {"type": "rule", "color": "black", "strokeWidth": 4, "strokeCap": "square"},
  "encoding": {"y": {"field": "at", "type": "nominal", "bandPosition": 0}, "x": {"datum": "LG", "type": "nominal", "bandPosition": 0}, "x2": {"datum": "9", "bandPosition": 1}}},
 {"data": {"values": [{"at": "Tot"}]},
  "mark": {"type": "rule", "color": "black", "strokeWidth": 4, "strokeCap": "square"},
  "encoding": {"y": {"field": "at", "type": "nominal", "bandPosition": 1}, "x": {"datum": "LG", "type": "nominal", "bandPosition": 0}, "x2": {"datum": "9", "bandPosition": 1}}},
 {"data": {"values": [{"at": "LG"}, {"at": "1"}]},
  "mark": {"type": "rule", "color": "black", "strokeWidth": 4, "strokeCap": "square"},
  "encoding": {"x": {"field": "at", "type": "nominal", "bandPosition": 0}, "y": {"datum": "LG", "type": "nominal", "bandPosition": 0}, "y2": {"datum": "Tot", "bandPosition": 1}}},
 {"data": {"values": [{"at": "LG"}, {"at": "1"}, {"at": "Tot"}]},
  "mark": {"type": "rule", "color": "white", "strokeWidth": 1.8, "strokeCap": "square"},
  "encoding": {"y": {"field": "at", "type": "nominal", "bandPosition": 0}, "x": {"datum": "LG", "type": "nominal", "bandPosition": 0}, "x2": {"datum": "9", "bandPosition": 1}}},
 {"data": {"values": [{"at": "Tot"}]},
  "mark": {"type": "rule", "color": "white", "strokeWidth": 1.8, "strokeCap": "square"},
  "encoding": {"y": {"field": "at", "type": "nominal", "bandPosition": 1}, "x": {"datum": "LG", "type": "nominal", "bandPosition": 0}, "x2": {"datum": "9", "bandPosition": 1}}},
 {"data": {"values": [{"at": "LG"}, {"at": "1"}]},
  "mark": {"type": "rule", "color": "white", "strokeWidth": 1.8, "strokeCap": "square"},
  "encoding": {"x": {"field": "at", "type": "nominal", "bandPosition": 0}, "y": {"datum": "LG", "type": "nominal", "bandPosition": 0}, "y2": {"datum": "Tot", "bandPosition": 1}}},
 {"transform": [{"filter": {"field": "c", "oneOf": ["1","2","3","4","5","6","7","8","9"]}}, {"filter": "datum.r!='LG' && datum.r!='Tot'"}],
  "mark": {"type": "text", "fontSize": 15},
  "encoding": {"text": {"field": "v"}}},
 {"transform": [{"filter": {"field": "c", "oneOf": ["LG","1","2","3","4","5","6","7","8","9"]}}, {"filter": "datum.r=='LG' || datum.r=='Tot' || datum.c=='LG'"}],
  "mark": {"type": "text", "fontSize": 15, "fontWeight": "bold"},
  "encoding": {"text": {"field": "v"}}},
 {"data": {"values": [{"t": "(a)"}]},
  "mark": {"type": "text", "align": "left", "baseline": "alphabetic", "fontSize": 28, "fontWeight": "bold", "dx": -44, "dy": -25},
  "encoding": {"x": {"datum": "LG", "type": "nominal", "bandPosition": 0}, "y": {"datum": "LG", "type": "nominal", "bandPosition": 0}, "text": {"field": "t"}}},
 {"data": {"values": [{"t": "Apis"}]},
  "mark": {"type": "text", "align": "left", "baseline": "alphabetic", "fontSize": 22, "dx": 0, "dy": -25},
  "encoding": {"x": {"datum": "LG", "type": "nominal", "bandPosition": 0}, "y": {"datum": "LG", "type": "nominal", "bandPosition": 0}, "text": {"field": "t"}}},
 {"data": {"values": [{"t": "Silkworm"}]},
  "mark": {"type": "text", "align": "center", "baseline": "middle", "fontSize": 23, "angle": 270, "dy": -42},
  "encoding": {"x": {"datum": "LG", "type": "nominal", "bandPosition": 0}, "y": {"datum": "14", "type": "nominal", "bandPosition": 1}, "text": {"field": "t"}}}
]
},
{
"data": {"name": "apis"},
"encoding": {
 "x": {"field": "c", "type": "nominal", "axis": null, "scale": {"domain": ["10","11","12","13","14","15","16","Tot"], "paddingInner": 0, "paddingOuter": 0, "range": [429, 755]}},
 "y": {"field": "r", "type": "nominal", "axis": null, "scale": {"domain": ["LG","1","2","3","4","5","6","7","8","9","10","11","12","13","14","15","16","17","18","19","20","21","22","23","24","25","26","27","28","Tot"], "paddingInner": 0, "paddingOuter": 0, "range": [53, 793]}}
},
"layer": [
 {"transform": [{"filter": {"field": "c", "oneOf": ["10","11","12","13","14","15","16","Tot"]}}],
  "mark": {"type": "rect", "stroke": "black", "strokeWidth": 1},
  "encoding": {"fill": {"condition": {"test": "datum.h", "value": "#c4c4c4"}, "value": "white"}}},
 {"data": {"values": [{"at": "LG"}, {"at": "1"}, {"at": "Tot"}]},
  "mark": {"type": "rule", "color": "black", "strokeWidth": 4, "strokeCap": "square"},
  "encoding": {"y": {"field": "at", "type": "nominal", "bandPosition": 0}, "x": {"datum": "10", "type": "nominal", "bandPosition": 0}, "x2": {"datum": "Tot", "bandPosition": 1}}},
 {"data": {"values": [{"at": "Tot"}]},
  "mark": {"type": "rule", "color": "black", "strokeWidth": 4, "strokeCap": "square"},
  "encoding": {"y": {"field": "at", "type": "nominal", "bandPosition": 1}, "x": {"datum": "10", "type": "nominal", "bandPosition": 0}, "x2": {"datum": "Tot", "bandPosition": 1}}},
 {"data": {"values": [{"at": "Tot"}]},
  "mark": {"type": "rule", "color": "black", "strokeWidth": 4, "strokeCap": "square"},
  "encoding": {"x": {"field": "at", "type": "nominal", "bandPosition": 0}, "y": {"datum": "LG", "type": "nominal", "bandPosition": 0}, "y2": {"datum": "Tot", "bandPosition": 1}}},
 {"data": {"values": [{"at": "Tot"}]},
  "mark": {"type": "rule", "color": "black", "strokeWidth": 4, "strokeCap": "square"},
  "encoding": {"x": {"field": "at", "type": "nominal", "bandPosition": 1}, "y": {"datum": "LG", "type": "nominal", "bandPosition": 0}, "y2": {"datum": "Tot", "bandPosition": 1}}},
 {"data": {"values": [{"at": "LG"}, {"at": "1"}, {"at": "Tot"}]},
  "mark": {"type": "rule", "color": "white", "strokeWidth": 1.8, "strokeCap": "square"},
  "encoding": {"y": {"field": "at", "type": "nominal", "bandPosition": 0}, "x": {"datum": "10", "type": "nominal", "bandPosition": 0}, "x2": {"datum": "Tot", "bandPosition": 1}}},
 {"data": {"values": [{"at": "Tot"}]},
  "mark": {"type": "rule", "color": "white", "strokeWidth": 1.8, "strokeCap": "square"},
  "encoding": {"y": {"field": "at", "type": "nominal", "bandPosition": 1}, "x": {"datum": "10", "type": "nominal", "bandPosition": 0}, "x2": {"datum": "Tot", "bandPosition": 1}}},
 {"data": {"values": [{"at": "Tot"}]},
  "mark": {"type": "rule", "color": "white", "strokeWidth": 1.8, "strokeCap": "square"},
  "encoding": {"x": {"field": "at", "type": "nominal", "bandPosition": 0}, "y": {"datum": "LG", "type": "nominal", "bandPosition": 0}, "y2": {"datum": "Tot", "bandPosition": 1}}},
 {"data": {"values": [{"at": "Tot"}]},
  "mark": {"type": "rule", "color": "white", "strokeWidth": 1.8, "strokeCap": "square"},
  "encoding": {"x": {"field": "at", "type": "nominal", "bandPosition": 1}, "y": {"datum": "LG", "type": "nominal", "bandPosition": 0}, "y2": {"datum": "Tot", "bandPosition": 1}}},
 {"transform": [{"filter": {"field": "c", "oneOf": ["10","11","12","13","14","15","16"]}}, {"filter": "datum.r!='LG' && datum.r!='Tot'"}],
  "mark": {"type": "text", "fontSize": 15},
  "encoding": {"text": {"field": "v"}}},
 {"transform": [{"filter": {"field": "c", "oneOf": ["10","11","12","13","14","15","16","Tot"]}}, {"filter": "datum.r=='LG' || datum.r=='Tot' || datum.c=='Tot'"}],
  "mark": {"type": "text", "fontSize": 15, "fontWeight": "bold"},
  "encoding": {"text": {"field": "v"}}}
]
},
{
"data": {"name": "trib"},
"encoding": {
 "x": {"field": "c", "type": "nominal", "axis": null, "scale": {"domain": ["LG","1","2","3","4","5","6","7","8","9","10","Tot"], "paddingInner": 0, "paddingOuter": 0, "range": [854, 1309]}},
 "y": {"field": "r", "type": "nominal", "axis": null, "scale": {"domain": ["LG","1","2","3","4","5","6","7","8","9","10","11","12","13","14","15","16","17","18","19","20","21","22","23","24","25","26","27","28","Tot"], "paddingInner": 0, "paddingOuter": 0, "range": [53, 793]}}
},
"layer": [
 {"mark": {"type": "rect", "stroke": "black", "strokeWidth": 1},
  "encoding": {"fill": {"condition": {"test": "datum.h", "value": "#c4c4c4"}, "value": "white"}}},
 {"data": {"values": [{"at": "LG"}, {"at": "1"}, {"at": "Tot"}]},
  "mark": {"type": "rule", "color": "black", "strokeWidth": 4, "strokeCap": "square"},
  "encoding": {"y": {"field": "at", "type": "nominal", "bandPosition": 0}, "x": {"datum": "LG", "type": "nominal", "bandPosition": 0}, "x2": {"datum": "Tot", "bandPosition": 1}}},
 {"data": {"values": [{"at": "Tot"}]},
  "mark": {"type": "rule", "color": "black", "strokeWidth": 4, "strokeCap": "square"},
  "encoding": {"y": {"field": "at", "type": "nominal", "bandPosition": 1}, "x": {"datum": "LG", "type": "nominal", "bandPosition": 0}, "x2": {"datum": "Tot", "bandPosition": 1}}},
 {"data": {"values": [{"at": "LG"}, {"at": "1"}, {"at": "Tot"}]},
  "mark": {"type": "rule", "color": "black", "strokeWidth": 4, "strokeCap": "square"},
  "encoding": {"x": {"field": "at", "type": "nominal", "bandPosition": 0}, "y": {"datum": "LG", "type": "nominal", "bandPosition": 0}, "y2": {"datum": "Tot", "bandPosition": 1}}},
 {"data": {"values": [{"at": "Tot"}]},
  "mark": {"type": "rule", "color": "black", "strokeWidth": 4, "strokeCap": "square"},
  "encoding": {"x": {"field": "at", "type": "nominal", "bandPosition": 1}, "y": {"datum": "LG", "type": "nominal", "bandPosition": 0}, "y2": {"datum": "Tot", "bandPosition": 1}}},
 {"data": {"values": [{"at": "LG"}, {"at": "1"}, {"at": "Tot"}]},
  "mark": {"type": "rule", "color": "white", "strokeWidth": 1.8, "strokeCap": "square"},
  "encoding": {"y": {"field": "at", "type": "nominal", "bandPosition": 0}, "x": {"datum": "LG", "type": "nominal", "bandPosition": 0}, "x2": {"datum": "Tot", "bandPosition": 1}}},
 {"data": {"values": [{"at": "Tot"}]},
  "mark": {"type": "rule", "color": "white", "strokeWidth": 1.8, "strokeCap": "square"},
  "encoding": {"y": {"field": "at", "type": "nominal", "bandPosition": 1}, "x": {"datum": "LG", "type": "nominal", "bandPosition": 0}, "x2": {"datum": "Tot", "bandPosition": 1}}},
 {"data": {"values": [{"at": "LG"}, {"at": "1"}, {"at": "Tot"}]},
  "mark": {"type": "rule", "color": "white", "strokeWidth": 1.8, "strokeCap": "square"},
  "encoding": {"x": {"field": "at", "type": "nominal", "bandPosition": 0}, "y": {"datum": "LG", "type": "nominal", "bandPosition": 0}, "y2": {"datum": "Tot", "bandPosition": 1}}},
 {"data": {"values": [{"at": "Tot"}]},
  "mark": {"type": "rule", "color": "white", "strokeWidth": 1.8, "strokeCap": "square"},
  "encoding": {"x": {"field": "at", "type": "nominal", "bandPosition": 1}, "y": {"datum": "LG", "type": "nominal", "bandPosition": 0}, "y2": {"datum": "Tot", "bandPosition": 1}}},
 {"transform": [{"filter": "datum.r!='LG' && datum.r!='Tot' && datum.c!='LG' && datum.c!='Tot' && !datum.h"}],
  "mark": {"type": "text", "fontSize": 15},
  "encoding": {"text": {"field": "v"}}},
 {"transform": [{"filter": "!(datum.r!='LG' && datum.r!='Tot' && datum.c!='LG' && datum.c!='Tot') || datum.h"}],
  "mark": {"type": "text", "fontSize": 15, "fontWeight": "bold"},
  "encoding": {"text": {"field": "v"}}},
 {"data": {"values": [{"t": "(b)"}]},
  "mark": {"type": "text", "align": "left", "baseline": "alphabetic", "fontSize": 28, "fontWeight": "bold", "dx": -52, "dy": -25},
  "encoding": {"x": {"datum": "LG", "type": "nominal", "bandPosition": 0}, "y": {"datum": "LG", "type": "nominal", "bandPosition": 0}, "text": {"field": "t"}}},
 {"data": {"values": [{"t": "Tribolium"}]},
  "mark": {"type": "text", "align": "left", "baseline": "alphabetic", "fontSize": 22, "dx": -10, "dy": -25},
  "encoding": {"x": {"datum": "LG", "type": "nominal", "bandPosition": 0}, "y": {"datum": "LG", "type": "nominal", "bandPosition": 0}, "text": {"field": "t"}}},
 {"data": {"values": [{"t": "Silkworm"}]},
  "mark": {"type": "text", "align": "center", "baseline": "middle", "fontSize": 23, "angle": 270, "dy": -43},
  "encoding": {"x": {"datum": "LG", "type": "nominal", "bandPosition": 0}, "y": {"datum": "14", "type": "nominal", "bandPosition": 1}, "text": {"field": "t"}}}
]
}
],
"resolve": {"scale": {"x": "independent"}}
}
